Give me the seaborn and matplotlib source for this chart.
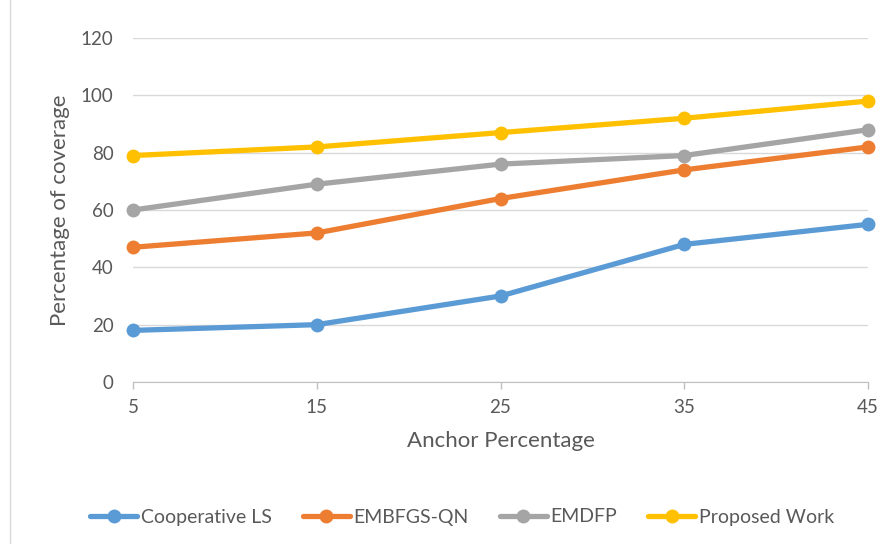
import pandas as pd
import matplotlib.pyplot as plt
import seaborn as sns

# chart data
anchor_pct = [5, 15, 25, 35, 45]
cooperative_ls = [18, 20, 30, 48, 55]
embfgs_qn = [47, 52, 64, 74, 82]
emdfp = [60, 69, 76, 79, 88]
proposed_work = [79, 82, 87, 92, 98]

series_names = ['Cooperative LS', 'EMBFGS-QN', 'EMDFP', 'Proposed Work']
colors = ['#5B9BD5', '#ED7D31', '#A5A5A5', '#FFC000']

df = pd.DataFrame({
    'Anchor': anchor_pct * 4,
    'Coverage': cooperative_ls + embfgs_qn + emdfp + proposed_work,
    'Method': [n for n in series_names for _ in anchor_pct],
})

sns.set_style('white')
plt.rcParams['font.family'] = ['Lato', 'DejaVu Sans']

fig = plt.figure(figsize=(8.96, 5.44), dpi=100)
ax = fig.add_axes([133 / 896, 1 - 382 / 544, (868 - 133) / 896, (382 - 38) / 544])

sns.lineplot(data=df, x='Anchor', y='Coverage', hue='Method', palette=colors,
             marker='o', markersize=10, markeredgewidth=0, linewidth=3.8,
             ax=ax, legend=True)
for line in ax.lines:
    line.set_clip_on(False)

ax.set_xlim(5, 45)
ax.set_ylim(0, 120)
ax.set_xticks(anchor_pct)
ax.set_yticks(range(0, 121, 20))
ax.yaxis.grid(True, color='#D9D9D9', linewidth=1)
ax.set_axisbelow(True)
for side in ['top', 'right', 'left']:
    ax.spines[side].set_visible(False)
ax.spines['bottom'].set_color('#BFBFBF')
ax.tick_params(axis='x', labelsize=13.5, length=5, width=1, color='#BFBFBF',
               direction='out', bottom=True, pad=7)
ax.tick_params(axis='y', labelsize=13.5, length=0, pad=14)
for lbl in ax.get_xticklabels() + ax.get_yticklabels():
    lbl.set_color('#595959')

ax.set_xlabel('Anchor Percentage', fontsize=16, color='#595959', labelpad=11)
ax.set_ylabel('Percentage of coverage', fontsize=16, color='#595959', labelpad=8)

handles, labels = ax.get_legend_handles_labels()
ax.legend(handles, labels, loc='center', bbox_to_anchor=(0.516, 1 - 517 / 544),
          bbox_transform=fig.transFigure, ncol=4, frameon=False, fontsize=14,
          handlelength=2.4, handletextpad=0.2, columnspacing=1.6, labelcolor='#595959')

# chart area left border
fig.add_artist(plt.Line2D([10 / 896, 10 / 896], [0, 1], color='#D9D9D9', linewidth=1,
                          transform=fig.transFigure))

fig.savefig('out.png', dpi=100)
